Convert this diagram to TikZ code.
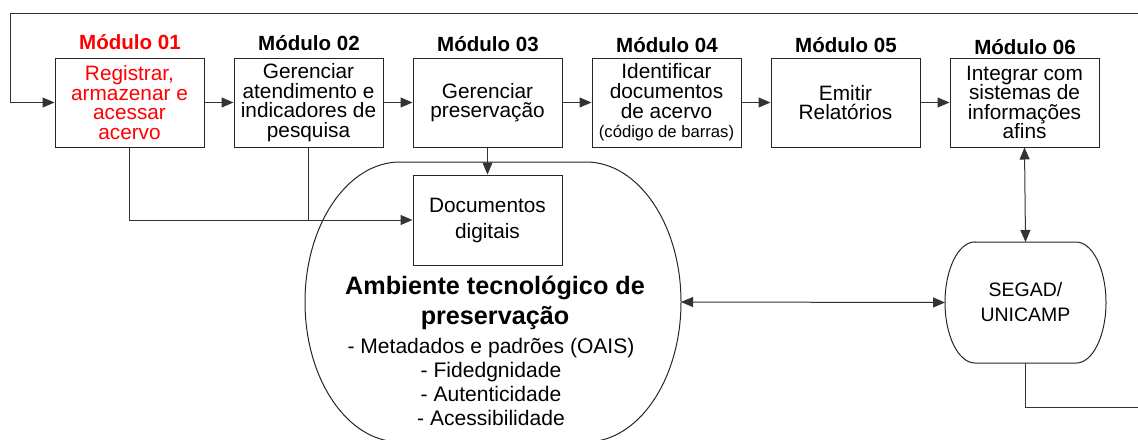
\documentclass[tikz,border=0pt]{standalone}
\usepackage{fontspec}
\setmainfont{Liberation Sans}
\usetikzlibrary{arrows.meta}
\begin{document}
\begin{tikzpicture}[x=0.75pt,y=-0.75pt,
  ln/.style={draw=black!80, line width=0.75pt},
  arr/.style={ln, -{Triangle[length=9pt,width=7.5pt]}},
  darr/.style={ln, {Triangle[length=9pt,width=7.5pt]}-{Triangle[length=9pt,width=7.5pt]}},
  modbox/.style={draw=black!85, line width=0.75pt, minimum width=111.75pt, minimum height=66.75pt, inner sep=0pt, align=center, font=\fontsize{15.6}{14.7}\selectfont},
  modtitle/.style={font=\bfseries\fontsize{15.4}{16}\selectfont, inner sep=0pt},
  shapeline/.style={draw=black!85, line width=0.75pt},
  ghost/.style={inner sep=0pt, outer sep=0pt}
]
\useasboundingbox (0,0) rectangle (1138,439);

% module titles
\node[modtitle, text=red] (t1) at (130,42) {Módulo 01};
\node[modtitle] (t2) at (309,43) {Módulo 02};
\node[modtitle] (t3) at (488,44) {Módulo 03};
\node[modtitle] (t4) at (667,45) {Módulo 04};
\node[modtitle] (t5) at (846,45) {Módulo 05};
\node[modtitle] (t6) at (1025,47) {Módulo 06};

% module boxes
\node[modbox, text=red] (m1) at (129.5,102.5) {Registrar,\\armazenar e\\acessar\\acervo};
\node[modbox] (m2) at (308.5,102.5) {Gerenciar\\atendimento e\\indicadores de\\pesquisa};
\node[modbox] (m3) at (487.5,102.5) {Gerenciar\\preservação};
\node[modbox] (m4) at (666.5,102.5) {Identificar\\documentos\\de acervo\\{\fontsize{12.5}{14}\selectfont (código de barras)}};
\node[modbox] (m5) at (845.5,102.5) {Emitir\\Relatórios};
\node[modbox] (m6) at (1024.5,102.5) {Integrar com\\sistemas de\\informações\\afins};

% environment shape
\draw[shapeline] (400,162) -- (586,162)
  arc[start angle=90,end angle=-90,x radius=71.25pt,y radius=105pt] -- (400,442)
  arc[start angle=270,end angle=90,x radius=71.25pt,y radius=105pt] -- cycle;
\node[ghost, minimum width=282pt, minimum height=210pt] (env) at (493,302) {};
\node[inner sep=0pt, align=center, font=\bfseries\fontsize{18.9}{22.5}\selectfont] (envt) at (495,303) {Ambiente tecnológico de\\preservação};
\node[inner sep=0pt, align=center, font=\fontsize{15.8}{18}\selectfont] (envl) at (491,382) {- Metadados e padrões (OAIS)\\- Fidedgnidade\\- Autenticidade\\- Acessibilidade};

% documentos digitais
\node[draw=black!85, line width=0.75pt, minimum width=111.75pt, minimum height=67.5pt, inner sep=0pt, align=center, fill=white, font=\fontsize{15.6}{19.5}\selectfont] (docs) at (487.5,220) {Documentos\\digitais};

% SEGAD shape
\draw[shapeline] (975,242) -- (1076,242)
  arc[start angle=90,end angle=-90,x radius=22.5pt,y radius=45.4pt] -- (975,363)
  arc[start angle=270,end angle=90,x radius=22.5pt,y radius=45.4pt] -- cycle;
\node[ghost, minimum width=120.75pt, minimum height=90.75pt, align=center, font=\fontsize{14.6}{18.75}\selectfont] (segad) at (1025.5,302.5) {SEGAD/\\UNICAMP};

% coordinates for the loop
\coordinate (topR) at (1138,13);
\coordinate (topL) at (10,13);
\coordinate (botR) at (1138,407);

% connectors
\draw[arr] (topR) -- (topL) |- (m1.west);
\draw[arr] (m1) -- (m2);
\draw[arr] (m2) -- (m3);
\draw[arr] (m3) -- (m4);
\draw[arr] (m4) -- (m5);
\draw[arr] (m5) -- (m6);
\draw[arr] (m1.south) |- (docs.west);
\draw[ln] (m2.south) -- (m2.south |- docs.west);
\draw[arr] (m3.south) -- (docs.north);
\draw[darr] (m6.south) -- (segad.north);
\draw[darr] (env.east) -- (segad.west);
\draw[ln] (segad.south) |- (botR);
\end{tikzpicture}
\end{document}
